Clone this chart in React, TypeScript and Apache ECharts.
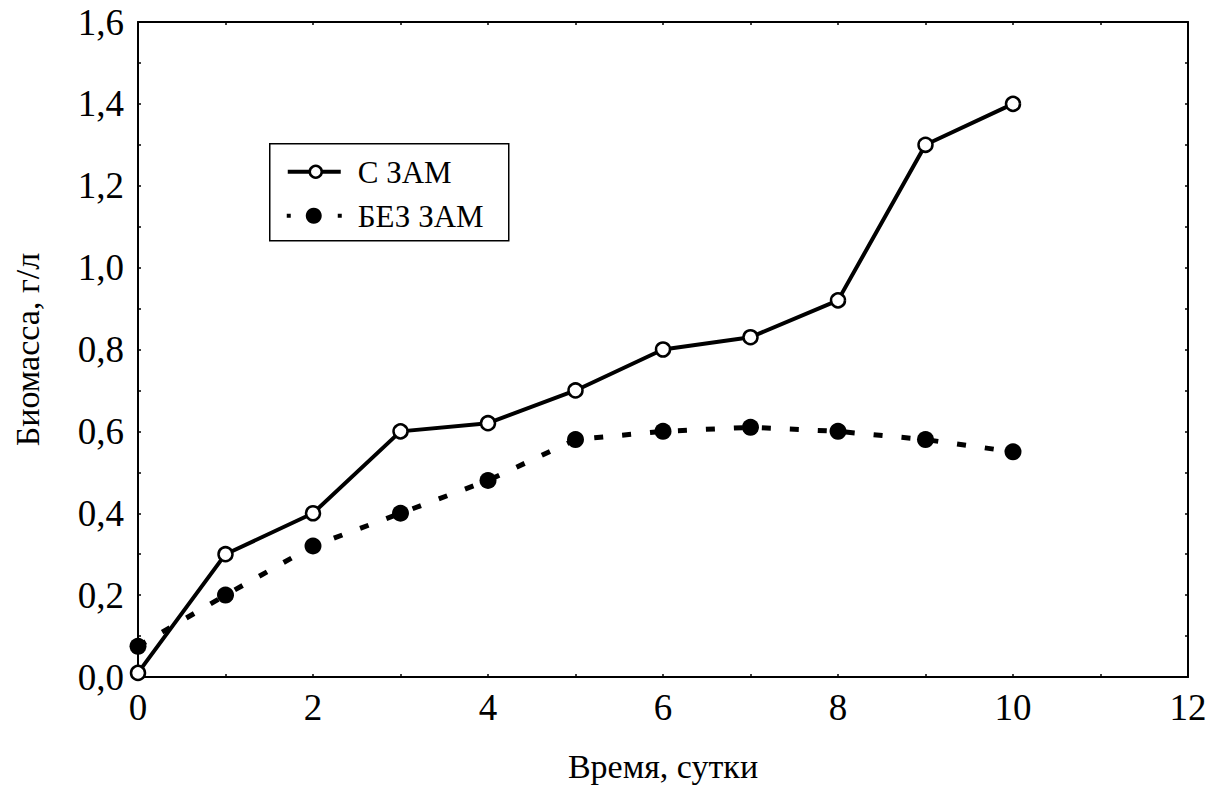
import React, { useEffect, useRef } from "react";
import * as echarts from "echarts";

const days = [0, 1, 2, 3, 4, 5, 6, 7, 8, 9, 10];
const withZam = [0.01, 0.3, 0.4, 0.6, 0.62, 0.7, 0.8, 0.83, 0.92, 1.3, 1.4];
const withoutZam = [0.075, 0.2, 0.32, 0.4, 0.48, 0.58, 0.6, 0.61, 0.6, 0.58, 0.55];
const seriesNames = ["С ЗАМ", "БЕЗ ЗАМ"];
const xTitle = "Время, сутки";
const yTitle = "Биомасса, г/л";

const FONT = "'Liberation Serif', 'Times New Roman', 'DejaVu Serif', serif";

export default function App() {
  const ref = useRef<HTMLDivElement>(null);
  useEffect(() => {
    if (!ref.current) return;
    const chart = echarts.init(ref.current, null, { renderer: "svg" });
    const tickLine = { color: "#000", width: 1.5 };
    const tickStyle = { show: true, inside: true, length: 3, lineStyle: tickLine };
    const minor = { show: true, splitNumber: 2, length: 3, lineStyle: tickLine };
    const axisLine = { show: true, onZero: false, lineStyle: { color: "#000", width: 2 } };
    chart.setOption({
      animation: false,
      backgroundColor: "#fff",
      grid: { left: 138, top: 22, right: 31, bottom: 123, containLabel: false },
      xAxis: [
        {
          type: "value",
          min: 0,
          max: 12,
          interval: 2,
          name: xTitle,
          nameLocation: "middle",
          nameGap: 72,
          nameTextStyle: { fontFamily: FONT, fontSize: 34, color: "#000" },
          axisLine,
          axisTick: tickStyle,
          minorTick: minor,
          splitLine: { show: false },
          axisLabel: { fontFamily: FONT, fontSize: 37, color: "#000", margin: 12 },
        },
        {
          type: "value",
          position: "top",
          min: 0,
          max: 12,
          interval: 2,
          axisLine,
          axisTick: tickStyle,
          minorTick: minor,
          splitLine: { show: false },
          axisLabel: { show: false },
        },
      ],
      yAxis: [
        {
          type: "value",
          min: 0,
          max: 1.6,
          interval: 0.2,
          name: yTitle,
          nameLocation: "middle",
          nameGap: 94,
          nameTextStyle: { fontFamily: FONT, fontSize: 34, color: "#000" },
          axisLine,
          axisTick: tickStyle,
          minorTick: minor,
          splitLine: { show: false },
          axisLabel: {
            fontFamily: FONT,
            fontSize: 37,
            color: "#000",
            margin: 14,
            formatter: (v: number) => v.toFixed(1).replace(".", ","),
          },
        },
        {
          type: "value",
          position: "right",
          min: 0,
          max: 1.6,
          interval: 0.2,
          axisLine,
          axisTick: tickStyle,
          minorTick: minor,
          splitLine: { show: false },
          axisLabel: { show: false },
        },
      ],
      graphic: [
        {
          type: "group",
          left: 269,
          top: 143,
          children: [
            {
              type: "rect",
              shape: { x: 0, y: 0, width: 239, height: 97 },
              style: { fill: "#fff", stroke: "#000", lineWidth: 1.5 },
            },
            {
              type: "line",
              shape: { x1: 18, y1: 28, x2: 71, y2: 28 },
              style: { stroke: "#000", lineWidth: 4 },
            },
            {
              type: "circle",
              shape: { cx: 46, cy: 28, r: 6 },
              style: { fill: "#fff", stroke: "#000", lineWidth: 2.5 },
            },
            {
              type: "text",
              x: 88,
              y: 29,
              style: {
                text: seriesNames[0],
                font: "31px " + FONT,
                fontFamily: FONT,
                fontSize: 31,
                fill: "#000",
                verticalAlign: "middle",
                align: "left",
              },
            },
            {
              type: "line",
              shape: { x1: 17, y1: 72, x2: 72, y2: 72 },
              style: { stroke: "#000", lineWidth: 4, lineDash: [4, 47] },
            },
            {
              type: "circle",
              shape: { cx: 44, cy: 72, r: 8 },
              style: { fill: "#000", stroke: "#000", lineWidth: 0 },
            },
            {
              type: "text",
              x: 88,
              y: 73,
              style: {
                text: seriesNames[1],
                font: "31px " + FONT,
                fontFamily: FONT,
                fontSize: 31,
                fill: "#000",
                verticalAlign: "middle",
                align: "left",
              },
            },
          ],
        },
      ],
      series: [
        {
          name: seriesNames[0],
          type: "line",
          data: days.map((d, i) => [d, withZam[i]]),
          symbol: "circle",
          symbolSize: 14,
          lineStyle: { color: "#000", width: 4, type: "solid" },
          itemStyle: { color: "#fff", borderColor: "#000", borderWidth: 2.5 },
          z: 3,
        },
        {
          name: seriesNames[1],
          type: "line",
          data: days.map((d, i) => [d, withoutZam[i]]),
          symbol: "circle",
          symbolSize: 17,
          lineStyle: { color: "#000", width: 5, type: [9, 19] },
          itemStyle: { color: "#000", borderColor: "#000", borderWidth: 0 },
          z: 2,
        },
      ],
    });
    return () => chart.dispose();
  }, []);
  return <div ref={ref} style={{ width: 1219, height: 800, position: "absolute", left: 0, top: 0 }} />;
}
